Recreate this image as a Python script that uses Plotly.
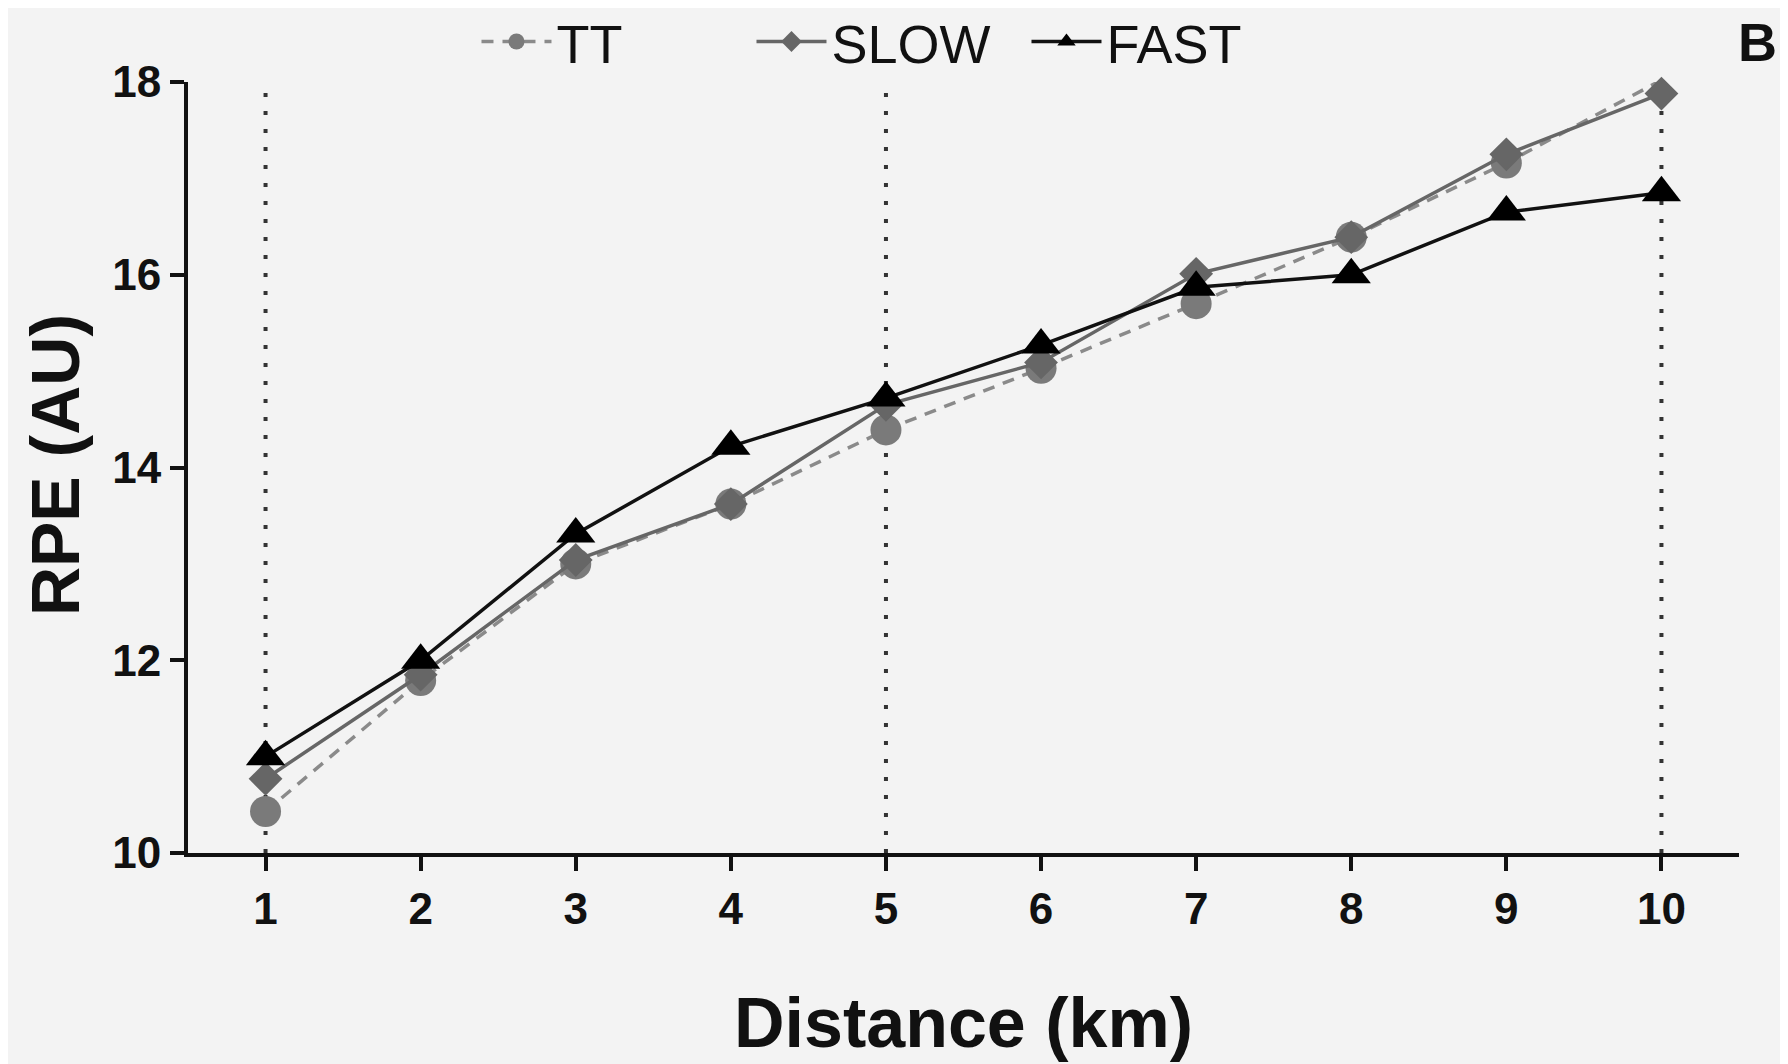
import plotly.graph_objects as go

distance_km = [1, 2, 3, 4, 5, 6, 7, 8, 9, 10]
rpe_tt = [10.43, 11.79, 13.0, 13.62, 14.39, 15.03, 15.7, 16.39, 17.16, 18.02]
rpe_slow = [10.77, 11.85, 13.04, 13.62, 14.65, 15.09, 16.01, 16.39, 17.25, 17.88]
rpe_fast = [11.0, 12.0, 13.31, 14.22, 14.72, 15.27, 15.87, 16.0, 16.65, 16.85]
marker_km = [1, 5, 10]
y_ticks = [10, 12, 14, 16, 18]

FONT = "Liberation Sans, Arial, sans-serif"
BG = "#f3f3f3"

fig = go.Figure()

for k in marker_km:
    fig.add_shape(type="line", xref="x", yref="y", x0=k, x1=k, y0=10, y1=18,
                  line=dict(color="#333333", width=4, dash="4px,14px"), layer="below")

fig.add_trace(go.Scatter(
    x=distance_km, y=rpe_tt, name="TT", mode="lines+markers",
    line=dict(color="#8a8a8a", width=3.5, dash="12px,9px"),
    marker=dict(symbol="circle", size=31, color="#7a7a7a"),
    cliponaxis=False))
fig.add_trace(go.Scatter(
    x=distance_km, y=rpe_slow, name="SLOW", mode="lines+markers",
    line=dict(color="#666666", width=3.5),
    marker=dict(symbol="diamond", size=26, color="#666666"),
    cliponaxis=False))
fig.add_trace(go.Scatter(
    x=distance_km, y=rpe_fast, name="FAST", mode="lines+markers",
    line=dict(color="#111111", width=3.5),
    marker=dict(symbol="triangle-up", size=34, color="#000000"),
    cliponaxis=False))

fig.update_layout(
    width=1780, height=1056,
    paper_bgcolor=BG, plot_bgcolor=BG,
    margin=dict(l=180, r=49, t=74, b=211, autoexpand=False),
    font=dict(family=FONT, color="#111111"),
    showlegend=True,
    legend=dict(orientation="h", x=0.186, y=1.052, xanchor="left", yanchor="middle",
                font=dict(size=54, family=FONT, color="#111111"),
                bgcolor="rgba(0,0,0,0)", itemwidth=70, tracegroupgap=0,
                entrywidth=190, entrywidthmode="pixels"),
    xaxis=dict(range=[0.5, 10.5], tickvals=distance_km, ticktext=[str(v) for v in distance_km],
               showgrid=False, zeroline=False, showline=True, linecolor="#111111", linewidth=4,
               ticks="outside", ticklen=14, tickwidth=4, tickcolor="#111111",
               tickfont=dict(size=44, family=FONT, weight="bold", color="#111111")),
    yaxis=dict(range=[10, 18], tickvals=y_ticks, ticktext=[str(v) for v in y_ticks],
               showgrid=False, zeroline=False, showline=True, linecolor="#111111", linewidth=4,
               ticks="outside", ticklen=14, tickwidth=4, tickcolor="#111111",
               tickfont=dict(size=44, family=FONT, weight="bold", color="#111111")),
    annotations=[
        dict(text="Distance (km)", xref="paper", yref="paper", x=0.5, y=-0.2205,
             xanchor="center", yanchor="middle", showarrow=False,
             font=dict(size=70, family=FONT, weight="bold", color="#111111")),
        dict(text="RPE (AU)", xref="paper", yref="paper", x=-0.0858, y=0.503,
             xanchor="center", yanchor="middle", textangle=-90, showarrow=False,
             font=dict(size=68, family=FONT, weight="bold", color="#111111")),
        dict(text="B", xref="paper", yref="paper", x=1.012, y=1.052,
             xanchor="center", yanchor="middle", showarrow=False,
             font=dict(size=54, family=FONT, weight="bold", color="#111111")),
    ],
)

fig.write_html("out.html")
